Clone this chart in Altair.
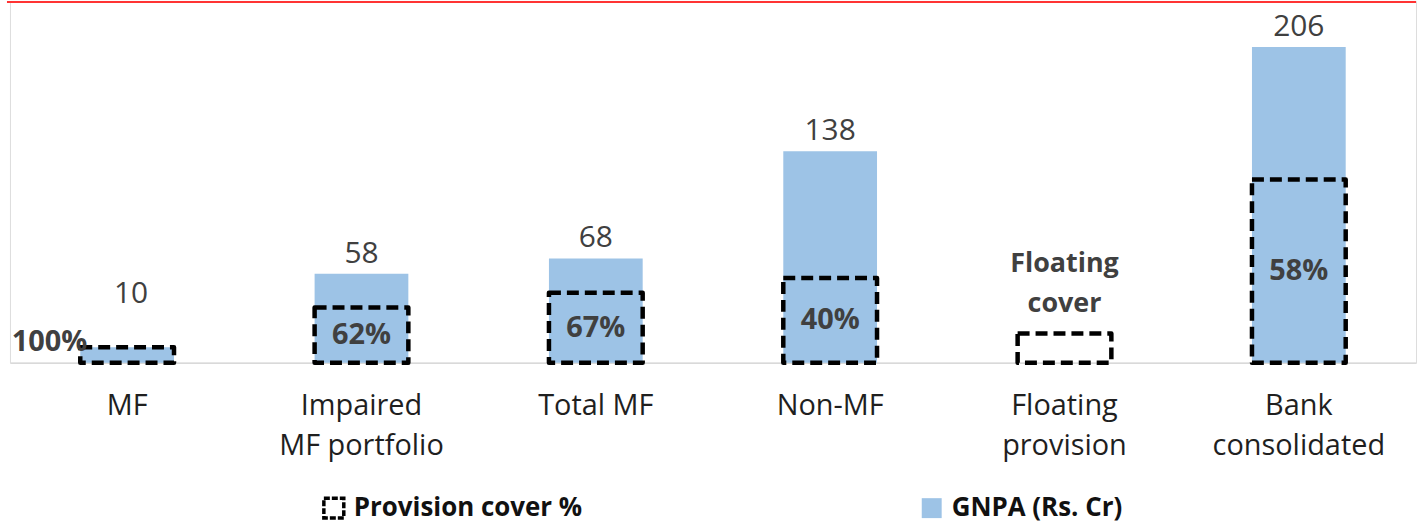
import altair as alt
import pandas as pd

# Portfolio segments shown along the x axis ("\n" marks a line break in the label)
segments = ["MF", "Impaired\nMF portfolio", "Total MF", "Non-MF",
            "Floating\nprovision", "Bank\nconsolidated"]
# Gross NPA in Rs. crore (no GNPA for the floating provision)
gnpa = [10, 58, 68, 138, None, 206]
# Provision cover ratio for each segment
cover = [1.00, 0.62, 0.67, 0.40, None, 0.58]
# Floating provision amount, Rs. crore
floating_amount = 19
# Text written inside / above each provision box
cover_labels = ["100%", "62%", "67%", "40%", "Floating\ncover", "58%"]

provision = [g * c if g is not None and c is not None else floating_amount
             for g, c in zip(gnpa, cover)]

df = pd.DataFrame({
    "segment": segments,
    "gnpa": gnpa,
    "provision": provision,
    "cover_label": cover_labels,
})

FONT = "Open Sans"
GREY = "#404040"
BLUE = "#9DC3E6"

x_enc = alt.X(
    "segment:N",
    sort=segments,
    scale=alt.Scale(paddingInner=0.6, paddingOuter=0.3),
    axis=alt.Axis(
        title=None, labelAngle=0, ticks=False,
        labelExpr="split(datum.label, '\\n')",
        labelFontSize=29, labelColor="#1f1f1f", labelFont=FONT,
        labelPadding=29, labelLineHeight=40, labelLimit=400,
        domainColor="#d9d9d9", domainWidth=1.5,
    ),
)
x_plain = alt.X("segment:N", sort=segments)
y_scale = alt.Scale(domain=[0, 236], nice=False, zero=True)

legend_style = dict(
    title=None, orient="none", legendY=496,
    symbolType="square", symbolSize=400,
    labelFontSize=26, labelFont=FONT, labelFontWeight="bold",
    labelColor="#111111", labelOffset=7, labelLimit=400,
)

base = alt.Chart(df)

gnpa_bars = base.mark_bar(opacity=1).transform_calculate(
    gnpa_series="'GNPA (Rs. Cr)'"
).encode(
    x=x_enc,
    y=alt.Y("gnpa:Q", scale=y_scale, axis=None),
    fill=alt.Fill(
        "gnpa_series:N",
        scale=alt.Scale(range=[BLUE]),
        legend=alt.Legend(legendX=912, symbolStrokeWidth=0, **legend_style),
    ),
)

# GNPA value labels above the bars
gnpa_text = base.mark_text(
    baseline="bottom", dy=-5, fontSize=30, font=FONT, color=GREY
).transform_filter("datum.gnpa != null && datum.segment != 'MF'").encode(
    x=x_plain,
    y=alt.Y("gnpa:Q", scale=y_scale),
    text=alt.Text("gnpa:Q", format="d"),
)

# The small MF bar keeps its value label clear of the cover label
mf_gnpa_text = base.mark_text(
    baseline="bottom", dy=-38, dx=4, fontSize=30, font=FONT, color=GREY
).transform_filter("datum.segment == 'MF'").encode(
    x=x_plain,
    y=alt.Y("gnpa:Q", scale=y_scale),
    text=alt.Text("gnpa:Q", format="d"),
)

provision_boxes = base.mark_bar(
    fill="transparent", strokeWidth=4.5, strokeDash=[12, 6], strokeJoin="round"
).transform_calculate(
    prov_series="'Provision cover %'"
).encode(
    x=x_plain,
    y=alt.Y("provision:Q", scale=y_scale),
    stroke=alt.Stroke(
        "prov_series:N",
        scale=alt.Scale(range=["#000000"]),
        legend=alt.Legend(
            legendX=312, symbolStrokeWidth=3.5, symbolDash=[6, 2],
            symbolFillColor="white", **legend_style,
        ),
    ),
)

# Percent labels centred inside each box
cover_text = base.mark_text(
    baseline="middle", fontSize=29, font=FONT, fontWeight="bold", color=GREY
).transform_filter(
    "datum.segment != 'MF' && datum.segment != 'Floating\\nprovision'"
).transform_calculate(
    mid="datum.provision / 2"
).encode(
    x=x_plain,
    y=alt.Y("mid:Q", scale=y_scale),
    text="cover_label:N",
)

# The full-cover label sits just left of the small MF bar
mf_text = base.mark_text(
    align="right", baseline="middle", dx=-40, dy=-5,
    fontSize=29, font=FONT, fontWeight="bold", color=GREY
).transform_filter("datum.segment == 'MF'").encode(
    x=x_plain,
    y=alt.Y("provision:Q", scale=y_scale),
    text="cover_label:N",
)

# Two-line note above the floating provision box
floating_text = base.mark_text(
    baseline="bottom", dy=-56, lineBreak="\n", lineHeight=40,
    fontSize=27, font=FONT, fontWeight="bold", color=GREY
).transform_filter("datum.segment == 'Floating\\nprovision'").encode(
    x=x_plain,
    y=alt.Y("provision:Q", scale=y_scale),
    text="cover_label:N",
)

# Thin red header rule along the top edge
header_rule = alt.Chart(pd.DataFrame({"k": [0]})).mark_rule(
    color="#ff3333", strokeWidth=2
).encode(x=alt.value(-3), x2=alt.value(1411), y=alt.value(1))

chart = alt.layer(
    gnpa_bars, provision_boxes, gnpa_text, mf_gnpa_text, cover_text, mf_text,
    floating_text, header_rule,
).resolve_scale(
    fill="independent", stroke="independent"
).properties(
    width=1411, height=363,
    padding={"left": 6, "top": 0, "right": 0, "bottom": 0},
).configure_view(stroke=None).configure(background="white")

chart.save("out.html", embed_options={"renderer": "svg", "actions": False})
